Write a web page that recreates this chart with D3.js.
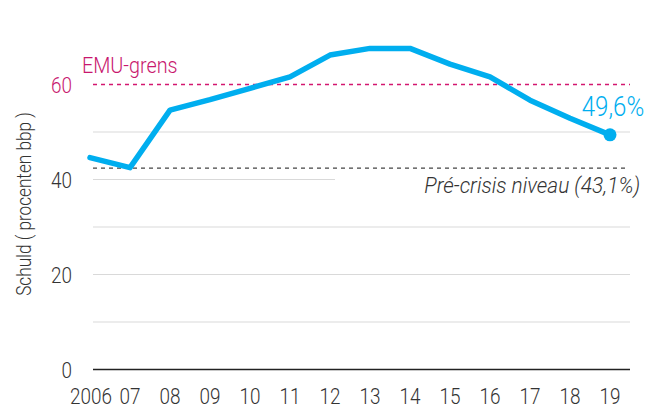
<!DOCTYPE html>
<html>
<head>
<meta charset="utf-8">
<script src="https://cdn.jsdelivr.net/npm/d3@7"></script>
<style>
  body { margin: 0; background: #fff; }
  text { font-family: "Roboto", sans-serif; font-weight: 300; }
</style>
</head>
<body>
<div id="chart"></div>
<script>
var years = [2006, 2007, 2008, 2009, 2010, 2011, 2012, 2013, 2014, 2015, 2016, 2017, 2018, 2019];
var yearLabels = ["2006", "07", "08", "09", "10", "11", "12", "13", "14", "15", "16", "17", "18", "19"];
var debt = [44.6, 42.5, 54.6, 56.8, 59.2, 61.6, 66.2, 67.6, 67.6, 64.3, 61.6, 56.7, 52.9, 49.4];
var yTicks = [0, 20, 40, 60];
var gridValues = [10, 20, 30, 40, 50];
var emuLimit = 60;
var preCrisis = 42.4;

var width = 655, height = 408;
var squeeze = 0.86; // narrow type, like a condensed face

var x = d3.scaleLinear().domain([2006, 2019]).range([90, 610]);
var y = d3.scaleLinear().domain([0, 60]).range([369.5, 84.5]);
var gx0 = 93, gx1 = 630;

var svg = d3.select("#chart").append("svg")
    .attr("width", width)
    .attr("height", height);

// put a squeezed label at (px, py)
function label(px, py, txt, size, color, anchor, extra, sq) {
    return svg.append("text")
        .attr("transform", "translate(" + px + "," + py + ")" + (extra || "") + " scale(" + (sq || squeeze) + ",1)")
        .attr("text-anchor", anchor)
        .attr("font-size", size)
        .attr("fill", color)
        .text(txt);
}

// grid lines (40 is cut short)
svg.selectAll(".grid")
    .data(gridValues)
  .enter().append("line")
    .attr("x1", gx0)
    .attr("x2", function(d) { return d == 40 ? 335 : gx1; })
    .attr("y1", function(d) { return y(d); })
    .attr("y2", function(d) { return y(d); })
    .attr("stroke", "#d9d9d9")
    .attr("stroke-width", 1.2);

// baseline
svg.append("line")
    .attr("x1", gx0).attr("x2", gx1)
    .attr("y1", y(0)).attr("y2", y(0))
    .attr("stroke", "#222")
    .attr("stroke-width", 1.5);

// EMU limit
svg.append("line")
    .attr("x1", gx0).attr("x2", gx1)
    .attr("y1", y(emuLimit)).attr("y2", y(emuLimit))
    .attr("stroke", "#d3176f")
    .attr("stroke-width", 1.3)
    .attr("stroke-dasharray", "4,4");

label(82, 73, "EMU-grens", 22, "#c8176e", "start", "", 0.9);

// pre-crisis level
svg.append("line")
    .attr("x1", gx0).attr("x2", gx1 - 2)
    .attr("y1", y(preCrisis)).attr("y2", y(preCrisis))
    .attr("stroke", "#444")
    .attr("stroke-width", 1.3)
    .attr("stroke-dasharray", "4,4");

label(640, 193, "Pré-crisis niveau (43,1%)", 22, "#333", "end", "", 0.95)
    .attr("font-style", "italic");

// y tick labels
yTicks.forEach(function(d) {
    label(72, y(d) + 8, d, 22, d == 60 ? "#c8176e" : "#333", "end");
});

// x tick labels
years.forEach(function(d, i) {
    label(x(d) + (i == 0 ? 1 : 0), 404, yearLabels[i], 22, "#333", "middle");
});

// y axis title
label(31, 204, "Schuld ( procenten bbp )", 20, "#333", "middle", " rotate(-90)");

// debt line
var line = d3.line()
    .x(function(d, i) { return x(years[i]); })
    .y(function(d) { return y(d); });

svg.append("path")
    .datum(debt)
    .attr("fill", "none")
    .attr("stroke", "#00aeef")
    .attr("stroke-width", 5.5)
    .attr("stroke-linejoin", "round")
    .attr("stroke-linecap", "round")
    .attr("d", line);

var last = debt.length - 1;
svg.append("circle")
    .attr("cx", x(years[last]))
    .attr("cy", y(debt[last]))
    .attr("r", 6.5)
    .attr("fill", "#00aeef");

label(x(years[last]) + 3, 116, "49,6%", 28, "#00aeef", "middle");
</script>
</body>
</html>
